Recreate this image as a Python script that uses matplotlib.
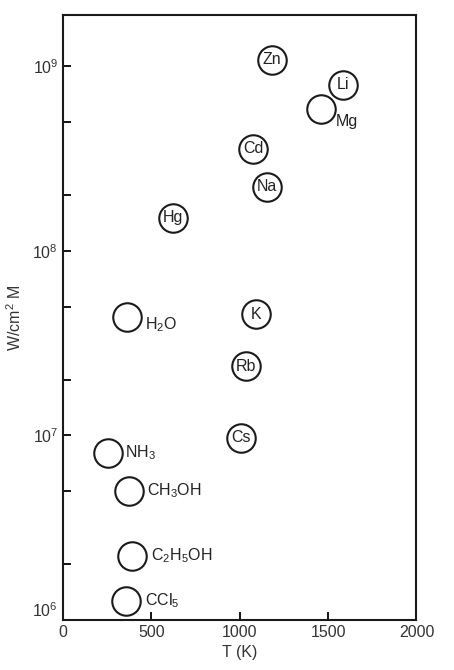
import matplotlib
matplotlib.use('Agg')
import matplotlib.pyplot as plt
import matplotlib.transforms as mtransforms
from matplotlib.ticker import LogLocator, NullFormatter

plt.rcParams['font.family'] = ['Liberation Sans', 'DejaVu Sans']
plt.rcParams['mathtext.default'] = 'regular'

# substances, temperature (K) and power (W/cm^2 M)
names = ['Zn', 'Li', 'Mg', 'Cd', 'Na', 'Hg', 'H$_2$O', 'K', 'Rb', 'Cs',
         'NH$_3$', 'CH$_3$OH', 'C$_2$H$_5$OH', 'CCl$_5$']
temps = [1180, 1585, 1457, 1076, 1152, 620, 360, 1090, 1033, 1008,
         256, 373, 390, 356]
power = [1.09e9, 7.96e8, 5.9e8, 3.59e8, 2.23e8, 1.51e8, 4.4e7, 4.55e7,
         2.37e7, 9.7e6, 8.05e6, 5.0e6, 2.22e6, 1.27e6]
inside = [True, True, False, True, True, True, False, True, True, True,
          False, False, False, False]

# label offsets (points) for names written beside the circle
offsets = {'Mg': (11, -9), 'H$_2$O': (13, -6), 'NH$_3$': (12, 0),
           'CH$_3$OH': (13, 0), 'C$_2$H$_5$OH': (14, 0), 'CCl$_5$': (14, 0)}

fig = plt.figure(figsize=(4.54, 6.70), dpi=100)
ax = fig.add_axes([0.1388, 0.0746, 0.7786, 0.903])

ax.plot(temps, power, 'o', ms=20.5, mfc='white', mec='#1a1a1a', mew=1.5,
        linestyle='none')

for n, t, p, ins in zip(names, temps, power, inside):
    if ins:
        ax.text(t, p, n, ha='center', va='center', fontsize=11.5, color='#222222')
    else:
        ax.annotate(n, (t, p), xytext=offsets[n], textcoords='offset points',
                    ha='left', va='center', fontsize=11.5, color='#222222')

ax.set_yscale('log')
ax.set_xlim(0, 2000)
ax.set_ylim(1e6, 1.9e9)
ax.set_xticks([0, 500, 1000, 1500, 2000])
ax.yaxis.set_major_locator(LogLocator(base=10, numticks=10))
ax.yaxis.set_minor_locator(LogLocator(base=10, subs=(2, 5), numticks=10))
ax.yaxis.set_minor_formatter(NullFormatter())

ax.tick_params(axis='both', which='both', direction='in', length=6, width=1.3,
               labelsize=11.5, labelcolor='#333333', top=False, right=False)
for s in ax.spines.values():
    s.set_linewidth(1.5)
    s.set_color('#1a1a1a')

ax.set_xlabel('T (K)', fontsize=11.5, color='#333333', labelpad=4)
ax.set_ylabel('W/cm$^2$ M', fontsize=11.5, color='#333333', labelpad=6)

# lift the bottom 10^6 label a little, as in the original
fig.canvas.draw()
lift = mtransforms.ScaledTranslation(0, 8 / 72, fig.dpi_scale_trans)
for tick in ax.yaxis.get_major_ticks():
    if abs(tick.get_loc() - 1e6) < 1:
        tick.label1.set_transform(tick.label1.get_transform() + lift)

fig.savefig('out.png', dpi=100)
